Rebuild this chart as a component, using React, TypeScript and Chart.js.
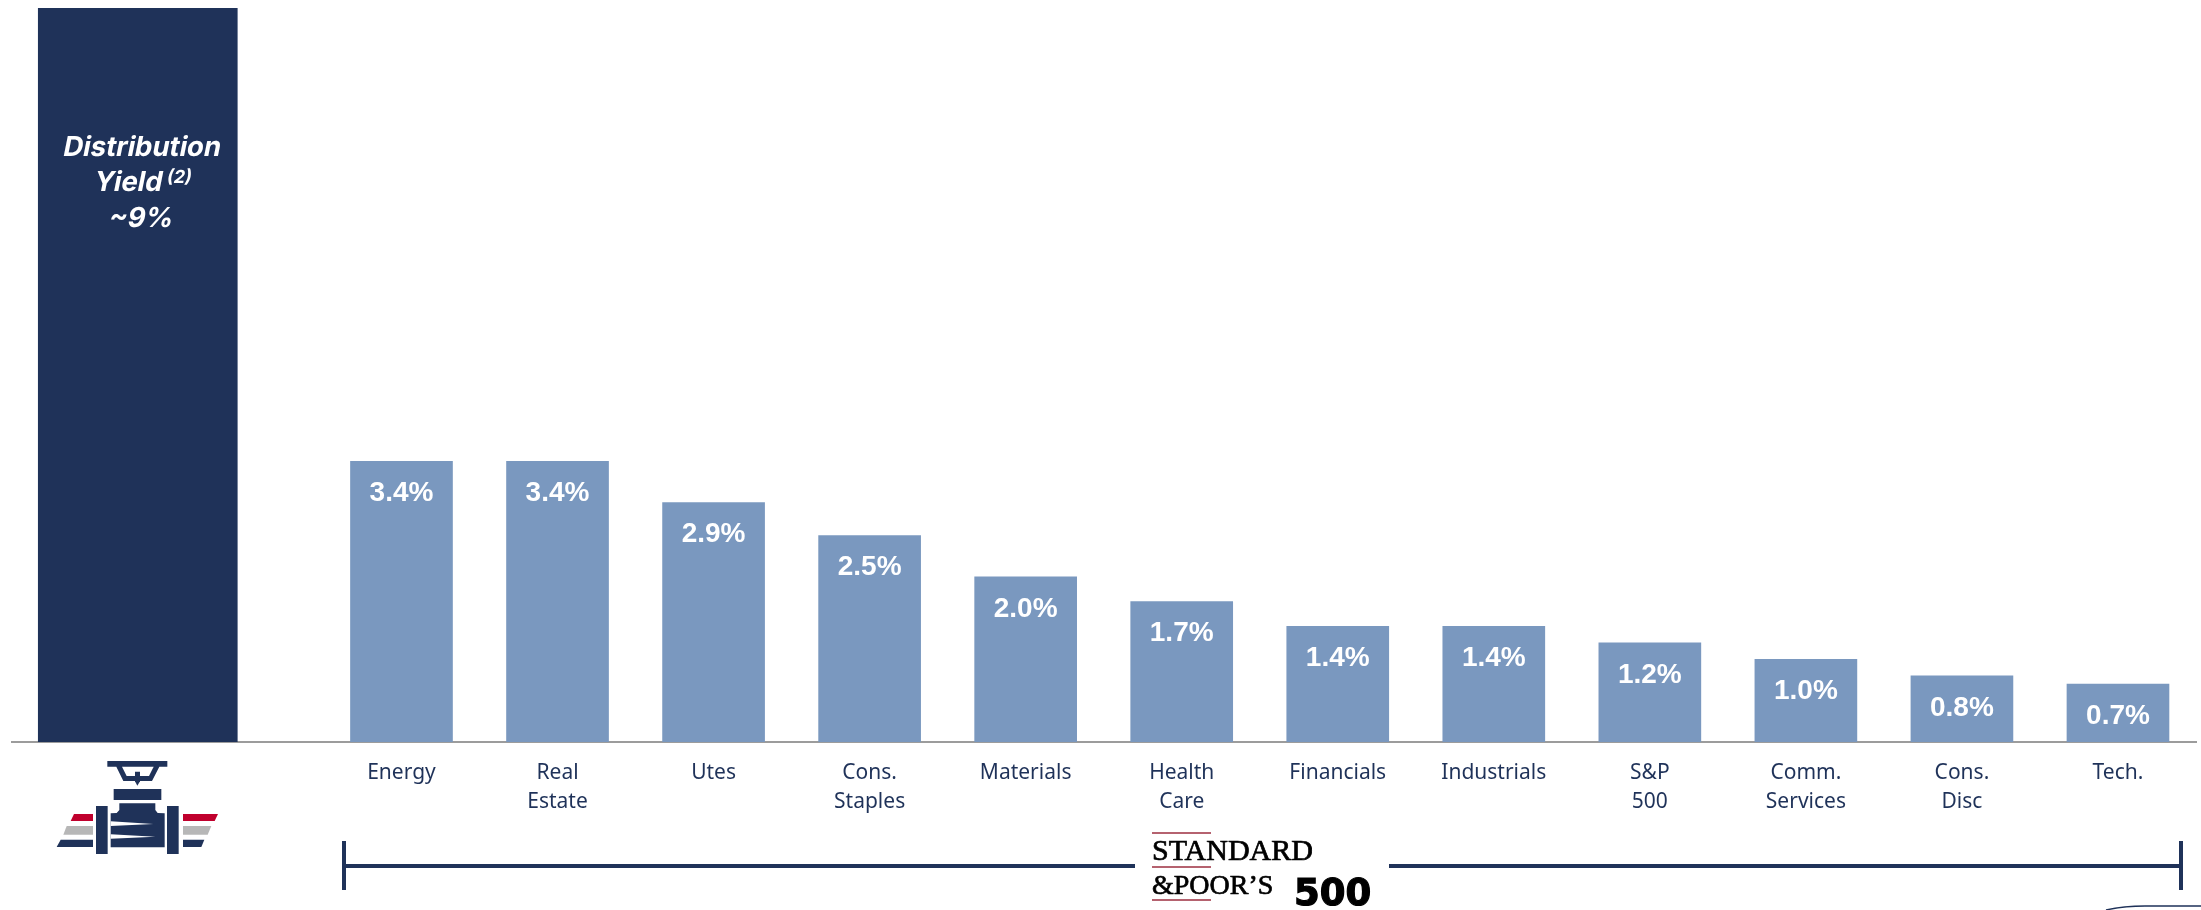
import React, { useEffect, useRef } from "react";
import { Chart, registerables } from "chart.js";

Chart.register(...registerables);

// Sector dividend yields, in percent
const sectorLabels: string[][] = [
  ["Energy"],
  ["Real", "Estate"],
  ["Utes"],
  ["Cons.", "Staples"],
  ["Materials"],
  ["Health", "Care"],
  ["Financials"],
  ["Industrials"],
  ["S&P", "500"],
  ["Comm.", "Services"],
  ["Cons.", "Disc"],
  ["Tech."],
];
const sectorYields: number[] = [3.4, 3.4, 2.9, 2.5, 2.0, 1.7, 1.4, 1.4, 1.2, 1.0, 0.8, 0.7];
const distributionYield: number[] = [9];

const NAVY = "#1F3259";
const STEEL = "#7A98BF";
const RED = "#C0002D";
const GREY = "#B7B7B7";

// Horizontal slot of the highlighted bar, to the left of the sector bars
const DISTRIBUTION_SLOT = -1.69;

type Ctx = CanvasRenderingContext2D;

function polygon(ctx: Ctx, pts: number[], fill: string) {
  // Icon outlines are authored at 3x, offset from the icon's origin
  ctx.fillStyle = fill;
  ctx.beginPath();
  for (let i = 0; i < pts.length; i += 2) {
    const x = pts[i] / 3;
    const y = 720 + pts[i + 1] / 3;
    if (i === 0) ctx.moveTo(x, y);
    else ctx.lineTo(x, y);
  }
  ctx.closePath();
  ctx.fill();
}

function drawValve(ctx: Ctx) {
  // handwheel
  polygon(ctx, [322, 123, 502, 123, 502, 140, 478, 140, 456, 183, 370, 183, 349, 140, 322, 140], NAVY);
  polygon(ctx, [366, 140, 461, 140, 447, 168, 380, 168], "#FFFFFF");
  polygon(ctx, [405, 155, 420, 155, 420, 184, 412, 197, 405, 184], NAVY);
  // bonnet and body
  polygon(ctx, [341, 207, 484, 207, 484, 240, 341, 240], NAVY);
  polygon(ctx, [358, 250, 466, 250, 466, 270, 473, 279, 494, 280, 494, 382, 332, 382, 332, 280, 350, 279, 358, 270], NAVY);
  polygon(ctx, [332, 304, 460, 312, 332, 318], "#FFFFFF");
  polygon(ctx, [332, 343, 466, 350, 332, 356], "#FFFFFF");
  // flanges
  polygon(ctx, [288, 258, 323, 258, 323, 402, 288, 402], NAVY);
  polygon(ctx, [501, 258, 536, 258, 536, 402, 501, 402], NAVY);
  // speed stripes
  polygon(ctx, [222, 282, 279, 282, 279, 303, 212, 303], RED);
  polygon(ctx, [200, 318, 279, 318, 279, 344, 190, 344], GREY);
  polygon(ctx, [182, 359, 279, 359, 279, 381, 170, 381], NAVY);
  polygon(ctx, [549, 282, 654, 282, 644, 303, 549, 303], RED);
  polygon(ctx, [549, 318, 634, 318, 623, 344, 549, 344], GREY);
  polygon(ctx, [549, 359, 613, 359, 604, 381, 549, 381], NAVY);
}

function drawBracket(ctx: Ctx) {
  ctx.fillStyle = NAVY;
  ctx.fillRect(342, 841, 4, 49);
  ctx.fillRect(2179, 841, 4, 49);
  ctx.fillRect(344, 864, 791, 4);
  ctx.fillRect(1389, 864, 792, 4);
}

function heavyText(ctx: Ctx, text: string, x: number, y: number, weight: number) {
  ctx.lineWidth = weight;
  ctx.strokeText(text, x, y);
  ctx.fillText(text, x, y);
}

function drawIndexMark(ctx: Ctx) {
  ctx.fillStyle = "#B5626F";
  ctx.fillRect(1152, 832, 59, 2);
  ctx.fillRect(1152, 866, 59, 2);
  ctx.fillRect(1152, 899, 59, 2);
  ctx.fillStyle = "#000000";
  ctx.strokeStyle = "#000000";
  ctx.textAlign = "left";
  ctx.textBaseline = "alphabetic";
  ctx.font = "30px 'Liberation Serif'";
  heavyText(ctx, "STANDARD", 1152, 860, 0.7);
  ctx.font = "28px 'Liberation Serif'";
  heavyText(ctx, "&POOR\u2019S", 1152, 894, 0.7);
  ctx.font = "bold 37px 'DejaVu Sans'";
  heavyText(ctx, "500", 1294, 905, 1.2);
}

function drawCornerCurve(ctx: Ctx) {
  ctx.strokeStyle = NAVY;
  ctx.lineWidth = 1.5;
  ctx.beginPath();
  ctx.moveTo(2106, 910);
  ctx.quadraticCurveTo(2124, 906, 2145, 906);
  ctx.lineTo(2201, 906);
  ctx.stroke();
}

// Slanted text set from the upright face
function obliqueText(ctx: Ctx, text: string, x: number, y: number) {
  ctx.save();
  ctx.transform(1, 0, -0.2, 1, x + 0.2 * y, 0);
  ctx.fillText(text, 0, y);
  ctx.restore();
}

const overlays = {
  id: "overlays",
  afterDatasetsDraw(chart: Chart) {
    const ctx = chart.ctx as Ctx;
    ctx.save();

    // values inside the sector bars
    const sectorMeta = chart.getDatasetMeta(1);
    ctx.fillStyle = "#FFFFFF";
    ctx.font = "bold 28px 'Liberation Sans'";
    ctx.textAlign = "center";
    ctx.textBaseline = "middle";
    sectorMeta.data.forEach((bar: any, i: number) => {
      ctx.fillText(`${sectorYields[i].toFixed(1)}%`, bar.x, bar.y + 32);
    });

    // caption inside the highlighted bar
    const cx = chart.getDatasetMeta(0).data[0].x + 3;
    ctx.textBaseline = "alphabetic";
    ctx.font = "700 27.5px Inter";
    obliqueText(ctx, "Distribution", cx, 156);
    ctx.textAlign = "left";
    obliqueText(ctx, "Yield", 93, 191);
    ctx.font = "700 18px Inter";
    obliqueText(ctx, "(2)", 166, 183);
    ctx.textAlign = "center";
    ctx.font = "700 27.5px Inter";
    obliqueText(ctx, `~${distributionYield[0]}%`, cx - 1, 227);

    drawValve(ctx);
    drawBracket(ctx);
    drawIndexMark(ctx);
    drawCornerCurve(ctx);
    ctx.restore();
  },
};

export default function App() {
  const ref = useRef<HTMLCanvasElement>(null);

  useEffect(() => {
    const chart = new Chart(ref.current as HTMLCanvasElement, {
      type: "bar",
      data: {
        datasets: [
          {
            data: distributionYield.map((y) => ({ x: DISTRIBUTION_SLOT, y })),
            backgroundColor: NAVY,
            barThickness: 199,
            grouped: false,
          },
          {
            data: sectorYields.map((y, i) => ({ x: i, y })),
            backgroundColor: STEEL,
            barThickness: 102,
            grouped: false,
          },
        ],
      },
      options: {
        responsive: false,
        animation: false,
        layout: { padding: { left: 12, right: 5, top: 8, bottom: 0 } },
        plugins: { legend: { display: false }, tooltip: { enabled: false } },
        scales: {
          x: {
            type: "linear",
            offset: false,
            min: -2.496,
            max: 11.5,
            z: 1,
            grid: { display: false },
            border: { color: "#9C9C9C", width: 2 },
            afterBuildTicks(scale: any) {
              scale.ticks = sectorLabels.map((_, i) => ({ value: i }));
            },
            afterFit(scale: any) {
              scale.height = 168;
            },
            ticks: {
              autoSkip: false,
              maxRotation: 0,
              minRotation: 0,
              padding: 9,
              color: NAVY,
              font: { family: "'Noto Sans'", size: 21, lineHeight: 1.36 },
              callback: (value: any) => sectorLabels[value] ?? "",
            },
          },
          y: { display: false, min: 0, max: 8.89 },
        },
      },
      plugins: [overlays],
    } as any);
    return () => chart.destroy();
  }, []);

  return (
    <canvas
      ref={ref}
      width={2201}
      height={910}
      style={{ position: "absolute", left: 0, top: 0, display: "block" }}
    />
  );
}
